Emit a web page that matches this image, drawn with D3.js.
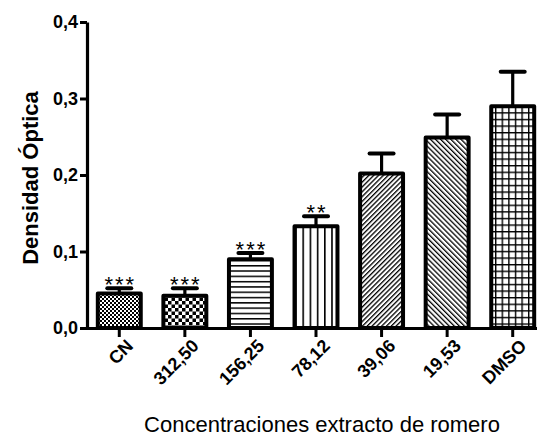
<!DOCTYPE html>
<html><head><meta charset="utf-8">
<script src="https://cdn.jsdelivr.net/npm/d3@7"></script>
<style>
html,body{margin:0;padding:0;background:#fff;}
svg{display:block;}
text{font-family:"Liberation Sans",Arial,sans-serif;}
</style></head>
<body>
<script>
const categories = ["CN","312,50","156,25","78,12","39,06","19,53","DMSO"];
const means = [0.045, 0.042, 0.090, 0.133, 0.202, 0.249, 0.290];
const sems = [0.007, 0.010, 0.008, 0.013, 0.026, 0.030, 0.045];
const signif = ["***","***","***","**","","",""];
const patterns = ["checkFine","checkCoarse","hLines","vLines","diagUp","diagDown","grid"];
const yTicks = [0, 0.1, 0.2, 0.3, 0.4];
const yTitle = "Densidad Óptica";
const xTitle = "Concentraciones extracto de romero";

const W = 537, H = 441;
const svg = d3.select("body").append("svg").attr("width", W).attr("height", H);
const defs = svg.append("defs");

function pat(id, w, h, transform){
  const p = defs.append("pattern").attr("id", id).attr("patternUnits","userSpaceOnUse")
    .attr("width", w).attr("height", h);
  if (transform) p.attr("patternTransform", transform);
  p.append("rect").attr("width", w).attr("height", h).attr("fill", "#fff");
  return p;
}
let p;
p = pat("checkFine", 4, 4);
p.append("rect").attr("x",0).attr("y",0).attr("width",2).attr("height",2).attr("fill","#000");
p.append("rect").attr("x",2).attr("y",2).attr("width",2).attr("height",2).attr("fill","#000");
p = pat("checkCoarse", 7, 7);
p.append("rect").attr("x",0).attr("y",0).attr("width",3.5).attr("height",3.5).attr("fill","#000");
p.append("rect").attr("x",3.5).attr("y",3.5).attr("width",3.5).attr("height",3.5).attr("fill","#000");
p = pat("hLines", 10, 5.3);
p.append("rect").attr("x",0).attr("y",0).attr("width",10).attr("height",1.5).attr("fill","#000");
p = pat("vLines", 7.2, 10);
p.append("rect").attr("x",0).attr("y",0).attr("width",1.6).attr("height",10).attr("fill","#000");
p = pat("diagUp", 3.4, 10, "rotate(45)");
p.append("rect").attr("x",0).attr("y",0).attr("width",1.3).attr("height",10).attr("fill","#000");
p = pat("diagDown", 3.6, 10, "rotate(-45)");
p.append("rect").attr("x",0).attr("y",0).attr("width",1.3).attr("height",10).attr("fill","#000");
p = pat("grid", 6.6, 6.6);
p.append("rect").attr("x",0).attr("y",0).attr("width",6.6).attr("height",1.4).attr("fill","#000");
p.append("rect").attr("x",0).attr("y",0).attr("width",1.4).attr("height",6.6).attr("fill","#000");

const x = d3.scaleBand().domain(categories).range([86.5, 545.5]).paddingInner(0.345).paddingOuter(0.1725);
const y = d3.scaleLinear().domain([0, 0.4]).range([328, 22]);

// bars
const g = svg.append("g");
categories.forEach((c, i) => {
  const x0 = x(c), bw = x.bandwidth(), cx = x0 + bw/2;
  g.append("rect").attr("x", x0).attr("y", y(means[i])).attr("width", bw)
    .attr("height", y(0) - y(means[i]))
    .attr("fill", `url(#${patterns[i]})`).attr("stroke", "#000").attr("stroke-width", 4)
    .attr("stroke-linejoin","round");
  const top = y(means[i] + sems[i]);
  g.append("line").attr("x1", cx).attr("x2", cx).attr("y1", y(means[i])).attr("y2", top)
    .attr("stroke","#000").attr("stroke-width",3.2);
  g.append("line").attr("x1", cx - 12).attr("x2", cx + 12).attr("y1", top).attr("y2", top)
    .attr("stroke","#000").attr("stroke-width",4).attr("stroke-linecap","round");
  if (signif[i]) {
    g.append("text").attr("x", cx + 1).attr("y", top + 4).attr("text-anchor","middle")
      .attr("font-size", 22).attr("letter-spacing", 2).text(signif[i]);
  }
});

// y axis
const yAxis = d3.axisLeft(y).tickValues(yTicks).tickSize(7).tickSizeOuter(0)
  .tickFormat(d => d3.format(".1f")(d).replace(".", ","));
const ya = svg.append("g").attr("transform","translate(87,0)").call(yAxis);
ya.select(".domain").attr("stroke-width",3.2).attr("stroke","#000");
ya.selectAll(".tick line").attr("stroke-width",3).attr("stroke","#000");
ya.selectAll(".tick text").attr("font-size",18).attr("font-weight","bold")
  .attr("font-family","Liberation Sans, Arial, sans-serif").attr("fill","#000").attr("x",-9);

// x axis
const xAxis = d3.axisBottom(x).tickSize(9).tickSizeOuter(0);
const xa = svg.append("g").attr("transform","translate(0,328)").call(xAxis);
xa.select(".domain").attr("stroke-width",3.2).attr("stroke","#000");
xa.selectAll(".tick line").attr("stroke-width",3).attr("stroke","#000");
xa.selectAll(".tick text").attr("font-size",18).attr("font-weight","bold")
  .attr("font-family","Liberation Sans, Arial, sans-serif").attr("fill","#000")
  .attr("text-anchor","end").attr("dy",null).attr("y",0)
  .attr("transform","translate(15,19) rotate(-45)");

// titles
svg.append("text").attr("transform","translate(38,178) rotate(-90)").attr("text-anchor","middle")
  .attr("font-size",22).attr("font-weight","bold").text(yTitle);
svg.append("text").attr("x",322).attr("y",432).attr("text-anchor","middle")
  .attr("font-size",22).text(xTitle);
</script>
</body></html>
